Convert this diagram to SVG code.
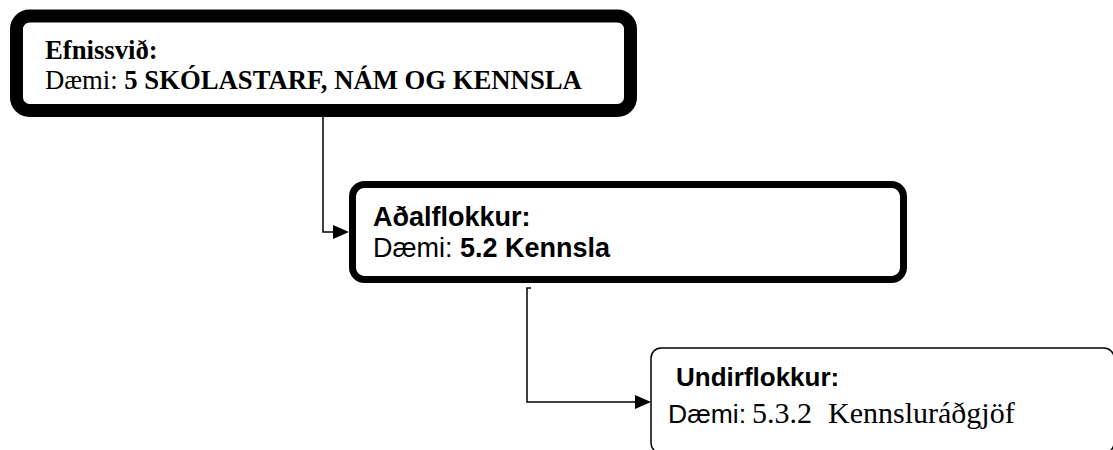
<svg xmlns="http://www.w3.org/2000/svg" width="1113" height="450" viewBox="0 0 1113 450">
  <style>
    .serif { font-family: "Liberation Serif", "Times New Roman", serif; fill: #000; }
    .sans { font-family: "Liberation Sans", Arial, sans-serif; fill: #000; }
    .b { font-weight: bold; }
    .conn { fill: none; stroke: #000; stroke-width: 1.5; }
    .head { fill: #000; }
  </style>
  <rect width="1113" height="450" fill="#fff"/>
  <g id="connectors">
    <path class="conn" d="M323,117 V232 H334"/>
    <path class="head" d="M333,225 L349,232 L333,239 Z"/>
    <path class="conn" d="M531,288 H527 V402 H636"/>
    <path class="head" d="M635,395 L651,402 L635,409 Z"/>
  </g>
  <g id="node-efnissvid">
    <rect x="16.5" y="16" width="614" height="94.5" rx="13" fill="#fff" stroke="#000" stroke-width="13"/>
    <text class="serif b" x="45" y="59" font-size="26.7">Efnissvið:</text>
    <text class="serif" x="45" y="89" font-size="26.7">Dæmi: <tspan class="b">5 SKÓLASTARF, NÁM OG KENNSLA</tspan></text>
  </g>
  <g id="node-adalflokkur">
    <rect x="352.5" y="184.5" width="551" height="95" rx="12" fill="#fff" stroke="#000" stroke-width="7"/>
    <text class="sans b" x="373" y="226" font-size="27">Aðalflokkur:</text>
    <text class="sans" x="373" y="257" font-size="27">Dæmi: <tspan class="b">5.2 Kennsla</tspan></text>
  </g>
  <g id="node-undirflokkur">
    <rect x="651" y="348" width="463" height="105" rx="10" fill="#fff" stroke="#000" stroke-width="1.5"/>
    <text class="sans b" x="676" y="386" font-size="26">Undirflokkur:</text>
    <text class="sans" x="668" y="423" font-size="26.5">Dæmi:</text>
    <text class="serif" x="752" y="423" font-size="30">5.3.2</text>
    <text class="serif" x="828" y="423" font-size="30">Kennsluráðgjöf</text>
  </g>
</svg>
